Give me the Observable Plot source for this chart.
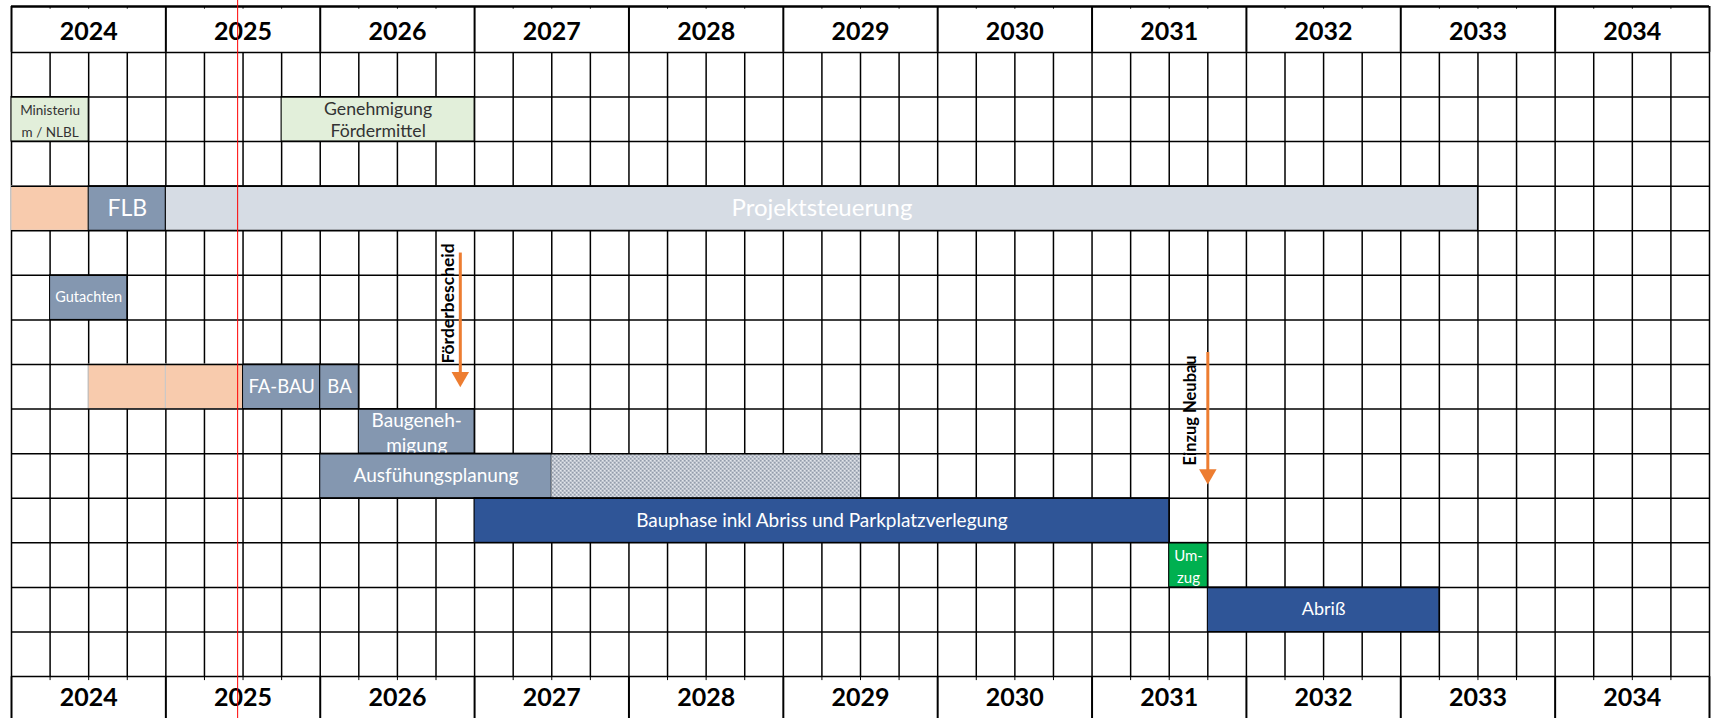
<!DOCTYPE html>
<html>
<head>
<meta charset="utf-8">
<script src="https://cdn.jsdelivr.net/npm/d3@7"></script>
<script src="https://cdn.jsdelivr.net/npm/@observablehq/plot@0.6"></script>
<style>
html, body { margin: 0; padding: 0; background: #fff; }
#chart svg { display: block; }
</style>
</head>
<body>
<div id="chart"></div>
<script>
// ---------- data ----------
const years = [2024, 2025, 2026, 2027, 2028, 2029, 2030, 2031, 2032, 2033, 2034];
const quartersPerYear = 4;
const rowCount = 14;

const taskNames  = ["Ministerium / NLBL", "Genehmigung Fördermittel", "Vorlauf FLB", "FLB", "Projektsteuerung",
                    "Gutachten", "Vorlauf FA-BAU 1", "Vorlauf FA-BAU 2", "FA-BAU", "BA", "Baugenehmigung",
                    "Ausfühungsplanung", "Ausfühungsplanung Puffer", "Bauphase", "Umzug", "Abriß"];
const taskLabels = ["Ministeriu\nm / NLBL", "Genehmigung\nFördermittel", "", "FLB", "Projektsteuerung",
                    "Gutachten", "", "", "FA-BAU", "BA", "Baugeneh-\nmigung",
                    "Ausfühungsplanung", "", "Bauphase inkl Abriss und Parkplatzverlegung", "Um-\nzug", "Abriß"];
const taskRows   = [1, 1, 3, 3, 3, 5, 7, 7, 7, 7, 8, 9, 9, 10, 11, 12];
const taskStarts = [0, 7, 0, 2, 4, 1, 2, 4, 6, 8, 9, 8, 14, 12, 30, 31];   // quarter index from 2024 Q1
const taskEnds   = [2, 12, 2, 4, 38, 3, 4, 6, 8, 9, 12, 14, 22, 30, 31, 37];
const taskKinds  = ["approval", "approval", "prep", "planning", "steering",
                    "planning", "prep", "prep", "planning", "planning", "planning",
                    "planning", "buffer", "construction", "move", "construction"];

const milestoneNames    = ["Förderbescheid", "Einzug Neubau"];
const milestoneQuarters = [11.63, 31.0];
const milestoneFromRow  = [4.5, 6.73];
const milestoneToRow    = [7.51, 9.69];
const milestoneLabelRow = [5.63, 8.03];

const todayQuarter = 5.86;

// ---------- derived tables ----------
const tasks = taskNames.map((name, i) => ({
  name, label: taskLabels[i], row: taskRows[i], start: taskStarts[i], end: taskEnds[i], kind: taskKinds[i]
}));
const milestones = milestoneNames.map((name, i) => ({
  name, x: milestoneQuarters[i], from: milestoneFromRow[i], to: milestoneToRow[i], labelRow: milestoneLabelRow[i]
}));
const totalQuarters = years.length * quartersPerYear;
const quarterLines = d3.range(0, totalQuarters + 1);
const rowLines = d3.range(0, rowCount + 1);

// ---------- styles ----------
const FONT = "Lato, 'Open Sans', 'DejaVu Sans', sans-serif";
const kindFill = {
  approval: "#E2EFDA", prep: "#F8CBAD", planning: "#8497B0", steering: "#D6DCE4",
  buffer: "#B4BCC8", construction: "#2F5597", move: "#00B050"
};
const kindStroke = {
  approval: "#000", prep: "#c9c9c9", planning: "#000", steering: "#000",
  buffer: "none", construction: "#000", move: "#000"
};
const labelStyle = {
  "Ministerium / NLBL": {fontSize: 13.5, lineHeight: 1.63, fill: "#333"},
  "Genehmigung Fördermittel": {fontSize: 17.7, lineHeight: 1.2, fill: "#333"},
  "FLB": {fontSize: 23, lineHeight: 1, fill: "#fff"},
  "Projektsteuerung": {fontSize: 24, lineHeight: 1, fill: "#fff"},
  "Gutachten": {fontSize: 14.5, lineHeight: 1, fill: "#fff"},
  "FA-BAU": {fontSize: 18.5, lineHeight: 1, fill: "#fff"},
  "BA": {fontSize: 18.5, lineHeight: 1, fill: "#fff"},
  "Baugenehmigung": {fontSize: 19, lineHeight: 1.32, fill: "#fff"},
  "Ausfühungsplanung": {fontSize: 19, lineHeight: 1, fill: "#fff"},
  "Bauphase": {fontSize: 19, lineHeight: 1, fill: "#fff"},
  "Umzug": {fontSize: 15, lineHeight: 1.47, fill: "#fff"},
  "Abriß": {fontSize: 18, lineHeight: 1, fill: "#fff"}
};
const milestoneFont = {"Förderbescheid": 17.5, "Einzug Neubau": 16.5};
const milestoneDx = {"Förderbescheid": -12, "Einzug Neubau": -17};

const Y_TOP = -1.03, Y_BOTTOM = 14.94;

// ---------- marks ----------
const taskMarks = tasks.flatMap(t => {
  const marks = [];
  const rectOpts = {
    x1: "start", x2: "end",
    y1: "row", y2: d => d.row + 1,
    fill: kindFill[t.kind],
    stroke: kindStroke[t.kind],
    strokeWidth: 1
  };
  if (t.kind === "buffer") {
    rectOpts.render = (index, scales, values, dims, ctx, next) => {
      const g = next(index, scales, values, dims, ctx);
      g.setAttribute("fill", "url(#puffer)");
      g.querySelectorAll("rect").forEach(r => r.setAttribute("fill", "url(#puffer)"));
      return g;
    };
  }
  marks.push(Plot.rect([t], rectOpts));
  if (t.label) {
    const s = labelStyle[t.name];
    marks.push(Plot.text([t], {
      x: d => (d.start + d.end) / 2,
      y: d => d.row + 0.5,
      text: "label",
      fill: s.fill,
      fontSize: s.fontSize,
      lineHeight: s.lineHeight,
      fontFamily: FONT,
      textAnchor: "middle",
      lineAnchor: "middle"
    }));
  }
  return marks;
});

const milestoneTextMarks = milestones.map(m => Plot.text([m], {
  x: "x", y: "labelRow", text: "name", rotate: -90, dx: milestoneDx[m.name],
  fontSize: milestoneFont[m.name], fontWeight: "bold", fill: "#000", fontFamily: FONT
}));

const chart = Plot.plot({
  width: 1711,
  height: 718,
  marginLeft: 11,
  marginRight: 2,
  marginTop: 6,
  marginBottom: 0,
  style: {fontFamily: FONT, background: "#fff"},
  x: {domain: [0, totalQuarters], axis: null},
  y: {domain: [Y_TOP, Y_BOTTOM], reverse: true, axis: null},
  marks: [
    // vertical grid (body)
    Plot.ruleX(quarterLines, {x: d => d, y1: 0, y2: rowCount, stroke: "#000", strokeWidth: 1.5}),
    // year boundaries in header and footer
    Plot.ruleX(quarterLines.filter(q => q % quartersPerYear === 0), {x: d => d, y1: Y_TOP, y2: 0, stroke: "#000", strokeWidth: 2}),
    Plot.ruleX(quarterLines.filter(q => q % quartersPerYear === 0), {x: d => d, y1: rowCount, y2: Y_BOTTOM, stroke: "#000", strokeWidth: 2}),
    // short quarter ticks in header/footer
    Plot.ruleX(quarterLines.filter(q => q % quartersPerYear !== 0), {x: d => d, y1: Y_TOP, y2: Y_TOP + 0.06, stroke: "#000", strokeWidth: 1}),
    Plot.ruleX(quarterLines.filter(q => q % quartersPerYear !== 0), {x: d => d, y1: rowCount, y2: rowCount + 0.09, stroke: "#000", strokeWidth: 1}),
    // tasks
    ...taskMarks,
    // horizontal grid
    Plot.ruleY(rowLines, {y: d => d, x1: 0, x2: totalQuarters, stroke: "#000", strokeWidth: 1.5}),
    Plot.ruleY([Y_TOP], {x1: 0, x2: totalQuarters, stroke: "#000", strokeWidth: 2.5}),
    // year labels top and bottom
    Plot.text(years, {x: (d, i) => i * quartersPerYear + quartersPerYear / 2, y: Y_TOP / 2 + 0.05, text: d => String(d),
      fontSize: 25, fontWeight: "bold", fill: "#000", fontFamily: FONT}),
    Plot.text(years, {x: (d, i) => i * quartersPerYear + quartersPerYear / 2, y: (rowCount + Y_BOTTOM) / 2, text: d => String(d),
      fontSize: 25, fontWeight: "bold", fill: "#000", fontFamily: FONT}),
    // today line
    Plot.ruleX([todayQuarter], {x: d => d, y1: Y_TOP - 0.14, y2: Y_BOTTOM, stroke: "#FF0000", strokeWidth: 1}),
    // milestones
    Plot.ruleX(milestones, {x: "x", y1: "from", y2: d => d.to - 0.25, stroke: "#ED7D31", strokeWidth: 3}),
    Plot.dot(milestones, {x: "x", y: d => d.to - 0.227, symbol: "triangle", rotate: 180, r: 6.5, fill: "#ED7D31", stroke: "none"}),
    ...milestoneTextMarks
  ]
});

// pattern for the buffer section
d3.select(chart).insert("defs", ":first-child").html(`
  <pattern id="puffer" patternUnits="userSpaceOnUse" width="4" height="4">
    <rect width="4" height="4" fill="#c7ccd5"></rect>
    <rect x="0" y="0" width="1.5" height="1.5" fill="#939cab"></rect>
    <rect x="2" y="2" width="1.5" height="1.5" fill="#939cab"></rect>
    <rect x="2" y="0" width="1" height="1" fill="#e3e6eb"></rect>
    <rect x="0" y="2" width="1" height="1" fill="#e3e6eb"></rect>
  </pattern>`);

document.getElementById("chart").append(chart);
</script>
</body>
</html>
